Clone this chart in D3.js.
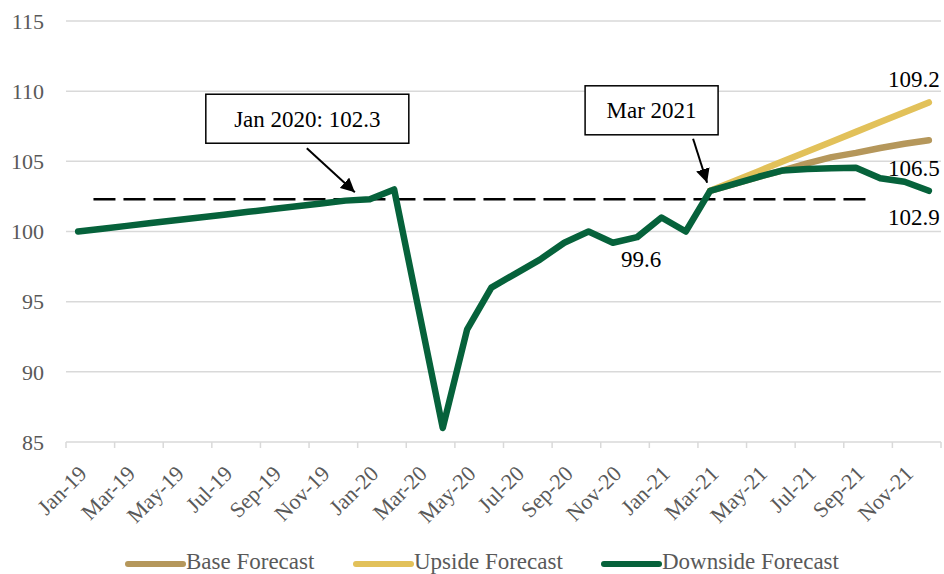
<!DOCTYPE html>
<html>
<head>
<meta charset="utf-8">
<script src="https://cdn.jsdelivr.net/npm/d3@7"></script>
<style>
  html, body { margin: 0; padding: 0; background: #fff; }
  svg { display: block; }
  svg text { font-family: "Liberation Serif", "DejaVu Serif", "Times New Roman", serif; }
</style>
</head>
<body>
<svg id="chart" width="944" height="574" font-family="Liberation Serif, DejaVu Serif, serif"></svg>
<script>
// ---------- DATA ----------
const months = ["Jan-19","Feb-19","Mar-19","Apr-19","May-19","Jun-19","Jul-19","Aug-19","Sep-19","Oct-19","Nov-19","Dec-19",
                "Jan-20","Feb-20","Mar-20","Apr-20","May-20","Jun-20","Jul-20","Aug-20","Sep-20","Oct-20","Nov-20","Dec-20",
                "Jan-21","Feb-21","Mar-21","Apr-21","May-21","Jun-21","Jul-21","Aug-21","Sep-21","Oct-21","Nov-21","Dec-21"];
const downside = [100.0,100.2,100.4,100.6,100.8,101.0,101.2,101.4,101.6,101.8,102.0,102.2,
                  102.3,103.0,94.5,86.0,93.0,96.0,97.0,98.0,99.2,100.0,99.2,99.6,
                  101.0,100.0,102.9,103.4,103.9,104.35,104.45,104.5,104.55,103.8,103.55,102.9];
const base = [null,null,null,null,null,null,null,null,null,null,null,null,
              null,null,null,null,null,null,null,null,null,null,null,null,
              null,null,102.9,103.4,103.9,104.35,104.85,105.3,105.6,105.95,106.25,106.5];
const upside = [null,null,null,null,null,null,null,null,null,null,null,null,
                null,null,null,null,null,null,null,null,null,null,null,null,
                null,null,102.9,103.6,104.3,105.0,105.7,106.4,107.1,107.8,108.5,109.2];
const yTicks = [85, 90, 95, 100, 105, 110, 115];
const seriesNames = ["Base Forecast", "Upside Forecast", "Downside Forecast"];
const referenceLevel = 102.3;
const pointLabels = [
  { month: "Dec-21", value: 109.2, text: "109.2" },
  { month: "Dec-21", value: 106.5, text: "106.5" },
  { month: "Dec-21", value: 102.9, text: "102.9" },
  { month: "Dec-20", value: 99.6, text: "99.6" }
];

// ---------- LAYOUT ----------
const W = 944, H = 574;
const m = { left: 66, right: 3, top: 21, bottom: 132 };
const colors = { "Base Forecast": "#b5975b", "Upside Forecast": "#e2c15a", "Downside Forecast": "#06623b" };
const FONT = "'Liberation Serif', 'DejaVu Serif', serif";

const svg = d3.select("#chart");
const x = d3.scaleBand().domain(months).range([m.left, W - m.right]).padding(0);
const y = d3.scaleLinear().domain([85, 115]).range([H - m.bottom, m.top]);
const cx = d => x(d) + x.bandwidth() / 2;
const step = x.step();

// gridlines
svg.append("g").selectAll("line").data(yTicks.filter(t => t > 85)).join("line")
  .attr("x1", m.left).attr("x2", W - m.right)
  .attr("y1", d => y(d)).attr("y2", d => y(d))
  .attr("stroke", "#d9d9d9").attr("stroke-width", 1.5);

// y labels
svg.append("g").selectAll("text").data(yTicks).join("text")
  .attr("x", 44).attr("y", d => y(d)).attr("dy", "0.35em")
  .attr("text-anchor", "end").attr("font-size", 22).attr("fill", "#595959")
  .style("font-family", FONT)
  .text(d => d);

// x axis line
svg.append("line").attr("x1", m.left).attr("x2", W - m.right)
  .attr("y1", y(85)).attr("y2", y(85)).attr("stroke", "#d9d9d9").attr("stroke-width", 1.5);
const tickMonths = months.filter((d, i) => i % 2 === 0);
svg.append("g").selectAll("line").data(tickMonths.concat(["__end"])).join("line")
  .attr("x1", d => d === "__end" ? W - m.right : x(d))
  .attr("x2", d => d === "__end" ? W - m.right : x(d))
  .attr("y1", y(85)).attr("y2", y(85) + 6)
  .attr("stroke", "#d9d9d9").attr("stroke-width", 1.5);
svg.append("g").selectAll("text").data(tickMonths).join("text")
  .attr("transform", d => `translate(${cx(d) - 1},${y(85) + 22}) rotate(-45)`)
  .attr("text-anchor", "end").attr("dy", "0.7em")
  .attr("font-size", 22).attr("fill", "#595959")
  .style("font-family", FONT)
  .text(d => d);

// reference dashed line
svg.append("line")
  .attr("x1", cx(months[0]) + step * 0.63).attr("x2", cx(months[33]) - step * 0.37)
  .attr("y1", y(referenceLevel)).attr("y2", y(referenceLevel))
  .attr("stroke", "#000").attr("stroke-width", 2.5).attr("stroke-dasharray", "22,8");

// series
const line = d3.line().defined(d => d.v != null).x(d => cx(d.m)).y(d => y(d.v));
const seriesData = { "Base Forecast": base, "Upside Forecast": upside, "Downside Forecast": downside };
seriesNames.forEach(name => {
  const pts = months.map((mm, i) => ({ m: mm, v: seriesData[name][i] }));
  svg.append("path").datum(pts).attr("d", line)
    .attr("fill", "none").attr("stroke", colors[name]).attr("stroke-width", 6.5)
    .attr("stroke-linejoin", "round").attr("stroke-linecap", "round");
});

// point labels
const offsets = { "109.2": [11, -15, "end"], "106.5": [11, 36, "end"], "102.9": [11, 34, "end"], "99.6": [4, 30, "middle"] };
svg.append("g").selectAll("text").data(pointLabels).join("text")
  .attr("x", d => cx(d.month) + offsets[d.text][0])
  .attr("y", d => y(d.value) + offsets[d.text][1])
  .attr("text-anchor", d => offsets[d.text][2])
  .attr("font-size", 23).attr("fill", "#000")
  .style("font-family", FONT).text(d => d.text);

// annotations
const defs = svg.append("defs");
defs.append("marker").attr("id", "arr").attr("viewBox", "0 0 10 10")
  .attr("refX", 10).attr("refY", 5).attr("markerWidth", 14).attr("markerHeight", 14)
  .attr("markerUnits", "userSpaceOnUse").attr("orient", "auto")
  .append("path").attr("d", "M0,0 L10,5 L0,10 Z").attr("fill", "#000");

function annotate(month, value, box, tail, tipOff, label) {
  const tx = cx(month) + tipOff[0], ty = y(value) + tipOff[1];
  svg.append("rect").attr("x", tx + box[0]).attr("y", ty + box[1])
    .attr("width", box[2]).attr("height", box[3])
    .attr("fill", "#fff").attr("stroke", "#000").attr("stroke-width", 1.5);
  svg.append("text").attr("x", tx + box[0] + box[2] / 2).attr("y", ty + box[1] + box[3] / 2)
    .attr("dy", "0.35em").attr("text-anchor", "middle").attr("font-size", 23).attr("fill", "#000")
    .style("font-family", FONT)
    .text(label);
  svg.append("line").attr("x1", tx + tail[0]).attr("y1", ty + tail[1]).attr("x2", tx).attr("y2", ty)
    .attr("stroke", "#000").attr("stroke-width", 2).attr("marker-end", "url(#arr)");
}
annotate("Jan-20", referenceLevel, [-149, -98, 203, 49], [-48, -44], [-15, -7], "Jan 2020: 102.3");
annotate("Mar-21", 102.9, [-122, -97, 133, 49], [-14, -44], [-3, -8], "Mar 2021");

// legend
const legendX = [128, 356, 604];
const lg = svg.append("g").selectAll("g").data(seriesNames).join("g")
  .attr("transform", (d, i) => `translate(${legendX[i]},564)`);
lg.append("line").attr("x1", 0).attr("x2", 55).attr("y1", 0).attr("y2", 0)
  .attr("stroke", d => colors[d]).attr("stroke-width", 6).attr("stroke-linecap", "round");
lg.append("text").attr("x", 58).attr("y", 5).attr("font-size", 23).attr("fill", "#595959")
  .style("font-family", FONT).text(d => d);
</script>
</body>
</html>
